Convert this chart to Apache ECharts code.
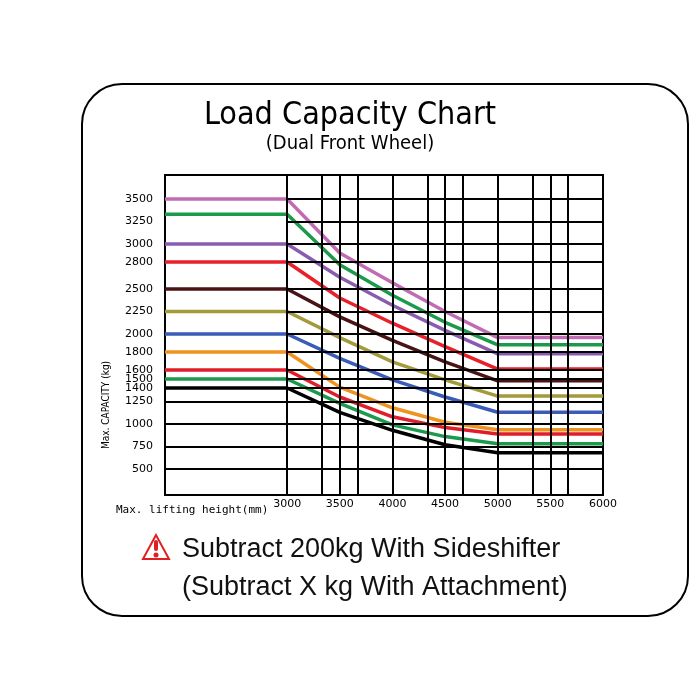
<!DOCTYPE html>
<html><head><meta charset="utf-8">
<script src="https://cdn.jsdelivr.net/npm/echarts@6/dist/echarts.min.js"></script>
<style>html,body{margin:0;padding:0;background:#fff}#c{width:700px;height:700px}</style>
</head><body><div id="c"></div>
<script>
const heights = [1840, 3000, 3500, 4000, 4500, 5000, 6000];
const seriesColors = ['#c26bb5','#1a9a4a','#8a5cb0','#e8202a','#4a1414','#a39a3a','#3a5cb8','#f0921e','#e01e2a','#1a9a4a','#000000'];
const capPink   = [3500,3500,2900,2570,2250,1960,1960];
const capGreen1 = [3330,3330,2770,2430,2130,1880,1880];
const capPurple = [3000,3000,2630,2320,2040,1780,1780];
const capRed1   = [2800,2800,2400,2120,1860,1610,1610];
const capBrown  = [2500,2500,2190,1930,1690,1480,1480];
const capOlive  = [2250,2250,1960,1690,1490,1310,1310];
const capBlue   = [2000,2000,1730,1490,1300,1130,1130];
const capOrange = [1800,1800,1410,1180,1020,935,935];
const capRed2   = [1600,1600,1300,1080,960,890,890];
const capGreen2 = [1500,1500,1230,990,860,780,780];
const capBlack  = [1400,1400,1130,930,770,680,680];
const allCaps = [capPink,capGreen1,capPurple,capRed1,capBrown,capOlive,capBlue,capOrange,capRed2,capGreen2,capBlack];
const yTicks = [500,750,1000,1250,1400,1500,1600,1800,2000,2250,2500,2800,3000,3250,3500];
const xTicks = [3000,3500,4000,4500,5000,5500,6000];
const xGridLines = [3333,3500,3667,4000,4333,4500,4667,5000,5333,5500,5667];
const leftGridLevels = [500,750,1000,1250];

const gridData = [];
yTicks.forEach(v => gridData.push([{coord:[3000,v]},{coord:[6000,v]}]));
leftGridLevels.forEach(v => gridData.push([{coord:[1840,v]},{coord:[3000,v]}]));
[3000].concat(xGridLines).forEach(v => gridData.push([{coord:[v,211]},{coord:[v,3767]}]));

const series = [{
  type:'line', data:[], z:1,
  markLine:{silent:true, symbol:'none', label:{show:false}, lineStyle:{color:'#000',width:2,type:'solid'}, data:gridData}
}];
allCaps.forEach((c,i)=>series.push({
  type:'line', z:3, symbol:'none', smooth:false,
  lineStyle:{color:seriesColors[i], width:3.5, join:'round'},
  data: heights.map((h,j)=>[h,c[j]])
}));

const chart = echarts.init(document.getElementById('c'));
chart.setOption({
  animation:false,
  grid:{left:165,right:97,top:175,bottom:205,show:true,borderColor:'#000',borderWidth:2},
  xAxis:{type:'value',min:1840,max:6000,axisLine:{show:false},axisTick:{show:false},splitLine:{show:false},
    axisLabel:{customValues:xTicks,formatter:v=>String(v),color:'#000',fontSize:11,fontFamily:'DejaVu Sans',margin:4}},
  yAxis:{type:'value',min:211,max:3767,axisLine:{show:false},axisTick:{show:false},splitLine:{show:false},
    axisLabel:{customValues:yTicks,formatter:v=>String(v),color:'#000',fontSize:11,fontFamily:'DejaVu Sans',margin:12}},
  series:series,
  graphic:[
    {type:'rect',shape:{x:82,y:84,width:606,height:532,r:40},style:{fill:'none',stroke:'#000',lineWidth:2}},
    {type:'text',x:350,y:116,style:{text:'Load Capacity Chart',font:'32px "DejaVu Sans Condensed", sans-serif',fill:'#000',align:'center',verticalAlign:'middle'}},
    {type:'text',x:350,y:144,style:{text:'(Dual Front Wheel)',font:'20px "DejaVu Sans Condensed", sans-serif',fill:'#000',align:'center',verticalAlign:'middle'}},
    {type:'text',x:106,y:405,rotation:Math.PI/2,style:{text:'Max. CAPACITY (kg)',font:'10px "DejaVu Sans Condensed", sans-serif',fill:'#000',align:'center',verticalAlign:'middle'}},
    {type:'text',x:116,y:510,style:{text:'Max. lifting height(mm)',font:'11px "DejaVu Sans Mono", monospace',fill:'#000',align:'left',verticalAlign:'middle'}},
    {type:'polygon',shape:{points:[[156,535],[143,559],[169,559]]},style:{fill:'none',stroke:'#e02020',lineWidth:2}},
    {type:'rect',shape:{x:154,y:540,width:4,height:11,r:2},style:{fill:'#e02020'}},
    {type:'circle',shape:{cx:156,cy:555,r:2.5},style:{fill:'#e02020'}},
    {type:'text',x:182,y:550,style:{text:'Subtract 200kg With Sideshifter',font:'27px "Liberation Sans", Arial, sans-serif',fill:'#111',align:'left',verticalAlign:'middle'}},
    {type:'text',x:182,y:588,style:{text:'(Subtract X kg With Attachment)',font:'27px "Liberation Sans", Arial, sans-serif',fill:'#111',align:'left',verticalAlign:'middle'}}
  ]
});
</script></body></html>
